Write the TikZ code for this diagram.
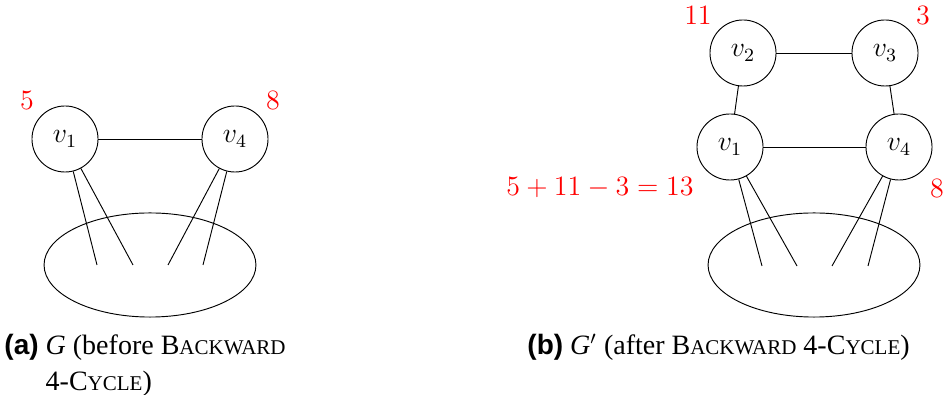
\documentclass[tikz,border=0pt]{standalone}
\usepackage{fontspec}
\setmainfont{Liberation Serif}
\setsansfont{Liberation Sans}
\usetikzlibrary{positioning,shapes.geometric}
\newcommand{\fakesc}[1]{{\small #1}}
\tikzset{
    vertex/.style={circle, draw, minimum size=28.3pt, inner sep=0pt, font=\large},
    weight/.style={text=red, font=\large, inner sep=0pt},
    pool/.style={ellipse, draw, minimum width=90.8pt, minimum height=44.6pt, inner sep=0pt},
    caption/.style={inner sep=0pt, anchor=base west, font=\large}
}

\begin{document}
\begin{tikzpicture}[x=0.4285pt, y=-0.4285pt]
  \useasboundingbox (0,0) rectangle (944,395);
  \node[vertex] (a1) at (65,139) {$v_1$};
  \node[vertex] (a4) at (235,139) {$v_4$};
  \node[weight] (wa1) at (27,100) {$5$};
  \node[weight] (wa4) at (273,100) {$8$};
  \node[pool] (pa) at (150,265) {};
  \coordinate (ea1) at (97,265);
  \coordinate (ea2) at (133,265);
  \coordinate (ea3) at (168,265);
  \coordinate (ea4) at (203,265);
  \draw (a1) -- (a4);
  \draw (a1) -- (ea1);
  \draw (a1) -- (ea2);
  \draw (a4) -- (ea3);
  \draw (a4) -- (ea4);
  \node[caption] (capa) at (4,355) {\begin{tabular}[t]{@{}l@{ }l@{}}
    \textsf{\bfseries (a)} & \textit{G} (before B\fakesc{ACKWARD}\\[1pt]
    & 4-C\fakesc{YCLE})\end{tabular}};

  \node[vertex] (b2) at (743,53) {$v_2$};
  \node[vertex] (b3) at (885,53) {$v_3$};
  \node[vertex] (b1) at (730,147) {$v_1$};
  \node[vertex] (b4) at (899,147) {$v_4$};
  \node[weight] (wb2) at (698,15) {$11$};
  \node[weight] (wb3) at (923,15) {$3$};
  \node[weight] (wb1) at (600,188) {$5+11-3=13$};
  \node[weight] (wb4) at (937,188) {$8$};
  \node[pool] (pb) at (814,265) {};
  \coordinate (eb1) at (762,266);
  \coordinate (eb2) at (797,266);
  \coordinate (eb3) at (832,266);
  \coordinate (eb4) at (868,266);
  \draw (b2) -- (b3);
  \draw (b2) -- (b1);
  \draw (b3) -- (b4);
  \draw (b1) -- (b4);
  \draw (b1) -- (eb1);
  \draw (b1) -- (eb2);
  \draw (b4) -- (eb3);
  \draw (b4) -- (eb4);
  \node[caption] (capb) at (527,355) {\textsf{\bfseries (b)} \textit{G}$'$ (after B\fakesc{ACKWARD} 4-C\fakesc{YCLE})};
\end{tikzpicture}
\end{document}
